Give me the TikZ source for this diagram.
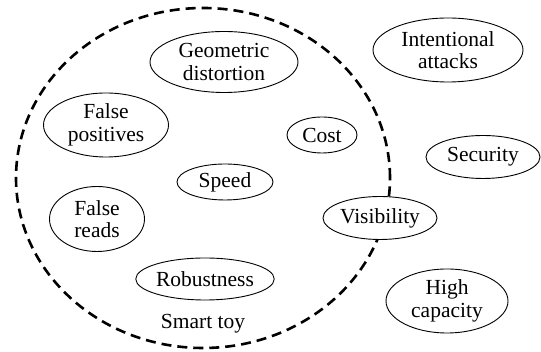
\documentclass[tikz,border=0pt]{standalone}
\usepackage{fontspec}
\setmainfont{Liberation Serif}
\usepackage{tikz}
\usetikzlibrary{shapes.geometric}

\begin{document}
\begin{tikzpicture}[x=1pt, y=1pt,
    every node/.style={font=\fontsize{21.5}{22.5}\selectfont, align=center},
    factor/.style={ellipse, draw, fill=white, line width=0.9pt, inner sep=0pt},
    toyset/.style={ellipse, draw, dash pattern=on 10pt off 6pt, line width=2.6pt,
      minimum width=374pt, minimum height=340pt}]
  \useasboundingbox (0,0) rectangle (541,352);
  \node[toyset] (toy) at (203,174) {};
  \node (toylabel) at (203,28) {Smart toy};
  \node[factor, minimum width=148pt, minimum height=61pt] (geo) at (224,290) {Geometric\\distortion};
  \node[factor, minimum width=125pt, minimum height=64pt] (fpos) at (106,227) {False\\positives};
  \node[factor, minimum width=150pt, minimum height=64pt] (intent) at (448,302) {Intentional\\attacks};
  \node[factor, minimum width=70pt, minimum height=36pt] (cost) at (322,217) {Cost};
  \node[factor, minimum width=114pt, minimum height=43pt] (secur) at (483,195) {Security};
  \node[factor, minimum width=96pt, minimum height=36pt] (speed) at (225,170) {Speed};
  \node[factor, minimum width=95pt, minimum height=65pt] (fread) at (97,133) {False\\reads};
  \node[factor, minimum width=125pt, minimum height=42pt] (robust) at (205,73) {Robustness};
  \node[factor, minimum width=114pt, minimum height=43pt] (vis) at (380,134) {Visibility};
  \node[factor, minimum width=122pt, minimum height=64pt] (highcap) at (447,51) {High\\capacity};
\end{tikzpicture}
\end{document}
